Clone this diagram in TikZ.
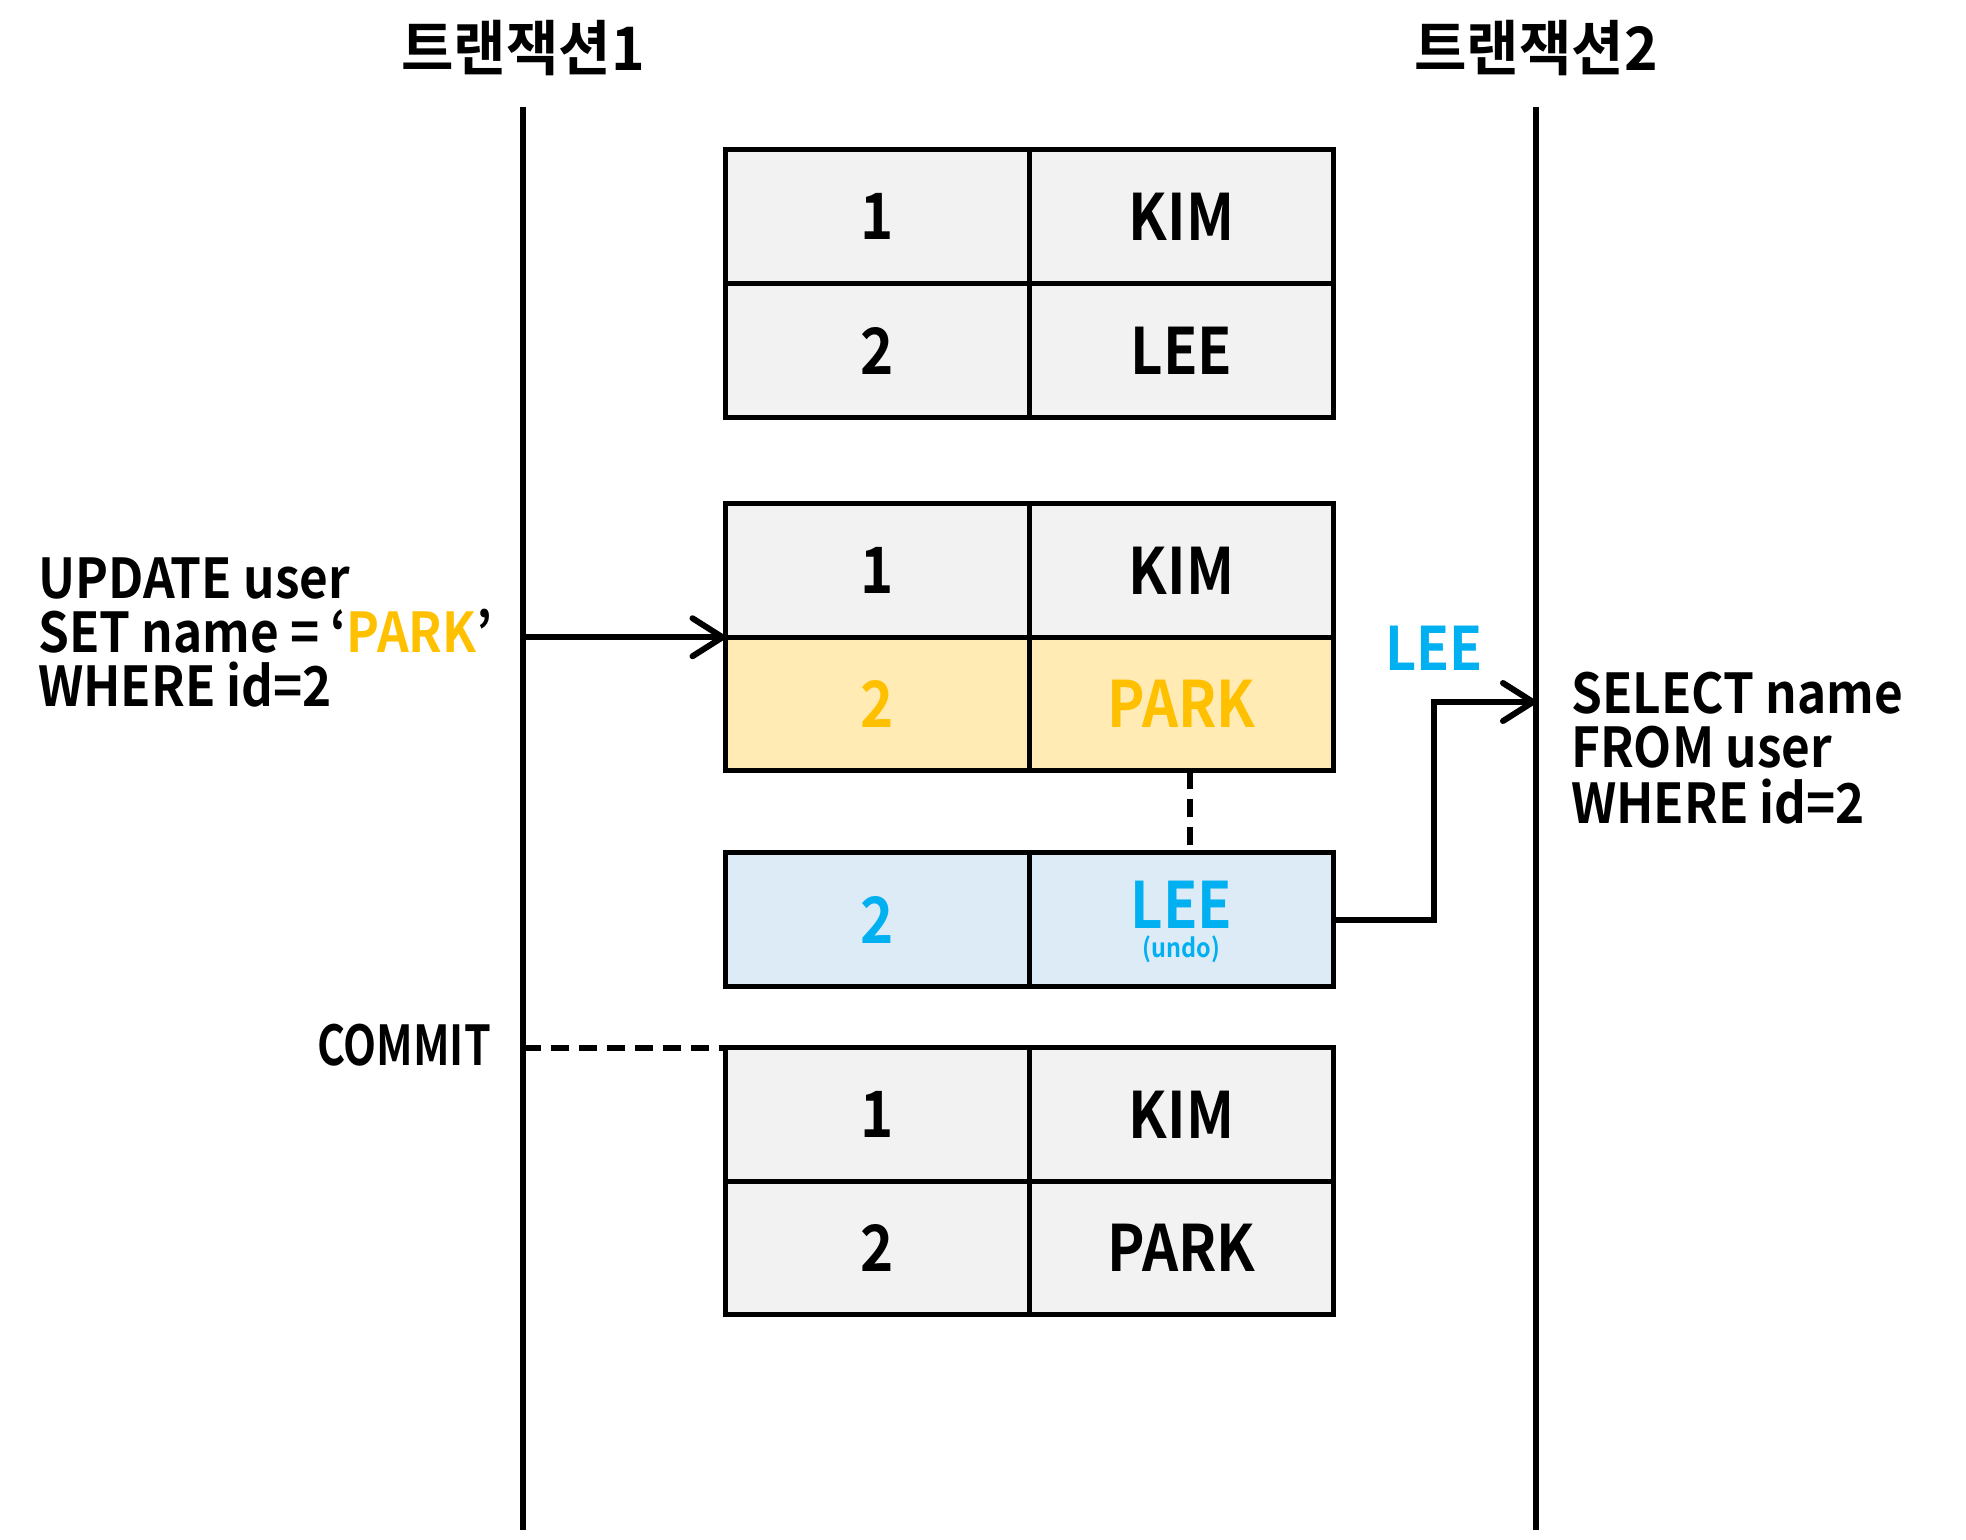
\documentclass[tikz,border=0pt]{standalone}
\usepackage{fontspec}
\usetikzlibrary{arrows.meta}
\newfontfamily\latf{Noto Sans CJK KR Bold}[FakeStretch=0.9]
\newfontfamily\cellf{Noto Sans CJK KR Bold}[FakeStretch=0.88]
\newfontfamily\comf{Noto Sans CJK KR Bold}[FakeStretch=0.78]
\newfontfamily\titf{Noto Sans CJK KR Bold}[FakeStretch=0.95]
\newcommand\myfs[1]{\fontsize{#1}{#1}\selectfont}
\definecolor{cgray}{HTML}{F2F2F2}
\definecolor{cyelfill}{HTML}{FFEBB3}
\definecolor{cyel}{HTML}{FFC000}
\definecolor{cbluefill}{HTML}{DDEBF7}
\definecolor{cblue}{HTML}{00B0F0}
\tikzset{
  cell/.style={draw=black, line width=5pt, minimum width=304pt, minimum height=133.5pt, inner sep=0pt, outer sep=0pt, font=\cellf\myfs{64}},
  graycell/.style={cell, fill=cgray, text=black},
  yelcell/.style={cell, fill=cyelfill, text=cyel},
  bluecell/.style={cell, fill=cbluefill, text=cblue},
  lifeline/.style={line width=6.5pt},
  sqltext/.style={anchor=base west, inner sep=0pt, font=\latf\myfs{55}},
  title/.style={anchor=base, inner sep=0pt, font=\titf\myfs{60}},
  conn/.style={line width=6pt, -{Straight Barb[length=30pt, width=38pt, round]}},
  dashconn/.style={line width=5.5pt, dash pattern=on 18pt off 10pt},
}
\begin{document}
\begin{tikzpicture}[x=1pt, y=-1pt]
\useasboundingbox (0,0) rectangle (1966,1540);
% titles
\node[title] (title1) at (523,70) {트랜잭션1};
\node[title] (title2) at (1536,70) {트랜잭션2};
% lifelines
\coordinate (l1top) at (523,107);
\coordinate (l1bot) at (523,1530);
\coordinate (l2top) at (1536,107);
\coordinate (l2bot) at (1536,1530);
\draw[lifeline] (l1top) -- (l1bot);
\draw[lifeline] (l2top) -- (l2bot);
% table 1
\node[graycell] (t1a1) at (877.5,216.5) {1};
\node[graycell] (t1b1) at (1181.5,216.5) {KIM};
\node[graycell] (t1a2) at (877.5,350.5) {2};
\node[graycell] (t1b2) at (1181.5,350.5) {LEE};
% table 2
\node[graycell] (t2a1) at (877.5,570.5) {1};
\node[graycell] (t2b1) at (1181.5,570.5) {KIM};
\node[yelcell] (t2a2) at (877.5,704) {2};
\node[yelcell] (t2b2) at (1181.5,704) {PARK};
% undo row
\node[bluecell] (ua) at (877.5,919.5) {2};
\node[bluecell] (ub) at (1181.5,919.5) {};
\node[anchor=base, inner sep=0pt, text=cblue, font=\cellf\myfs{64}] (ulee) at (1181.5,928) {LEE};
\node[anchor=base, inner sep=0pt, text=cblue, font=\latf\myfs{26}] (uundo) at (1181.5,957) {(undo)};
% table 3
\node[graycell] (t3a1) at (877.5,1114.5) {1};
\node[graycell] (t3b1) at (1181.5,1114.5) {KIM};
\node[graycell] (t3a2) at (877.5,1248) {2};
\node[graycell] (t3b2) at (1181.5,1248) {PARK};
% update text
\node[sqltext] (up1) at (38,598) {UPDATE user};
\node[sqltext] (up2) at (38,652) {SET name = ‘\textcolor{cyel}{PARK}’};
\node[sqltext] (up3) at (38,706) {WHERE id=2};
% select text
\node[sqltext] (se1) at (1571,713) {SELECT name};
\node[sqltext] (se2) at (1571,767) {FROM user};
\node[sqltext] (se3) at (1571,823) {WHERE id=2};
% commit
\node[sqltext, font=\comf\myfs{55}] (commit) at (317,1065) {COMMIT};
% LEE label
\node[anchor=base, inner sep=0pt, text=cblue, font=\latf\myfs{60}] (leelbl) at (1434,670) {LEE};
% connectors
\draw[conn] (t2a1.south west -| l1top) -- (t2a1.south west);
\coordinate (turn) at (1434,702);
\draw[conn] (ub.east) -| (turn) -- (turn -| l2top);
\coordinate (dashx) at (1190,0);
\draw[dashconn] (t2b2.south -| dashx) -- (ub.north -| dashx);
\draw[dashconn] (t3a1.north west -| l1top) -- (t3a1.north west);
\end{tikzpicture}
\end{document}
